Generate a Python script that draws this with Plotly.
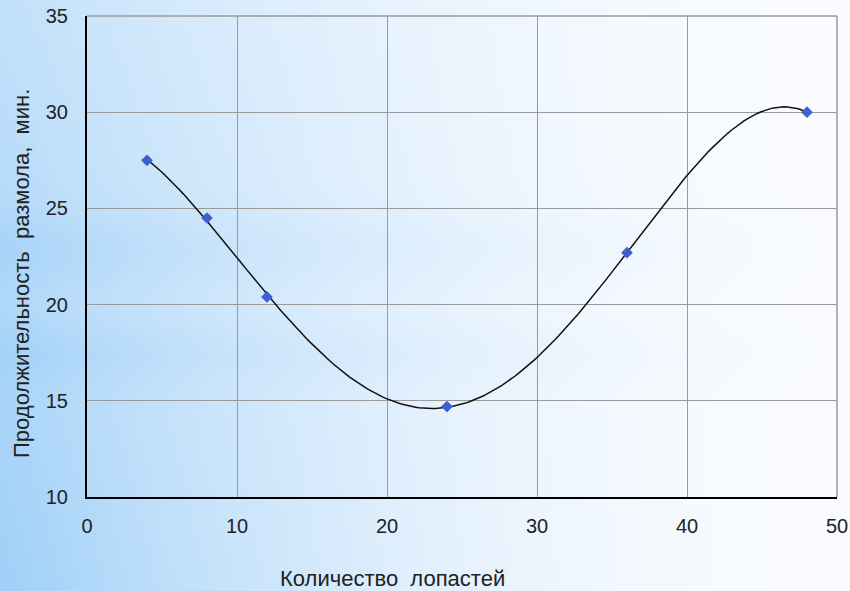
import base64, struct, zlib
import numpy as np
import plotly.graph_objects as go

# Data
blades = [4, 8, 12, 24, 36, 48]
duration = [27.5, 24.5, 20.4, 14.7, 22.7, 30.0]
x_ticks = [0, 10, 20, 30, 40, 50]
y_ticks = [10, 15, 20, 25, 30, 35]
x_title = "Количество\u00a0 лопастей"
y_title = "Продолжительность\u00a0 размола,\u00a0 мин."

W, H = 850, 591
L, R, T, B = 87, 13, 16, 94
PW, PH = W - L - R, H - T - B

# background gradient image (style only)
def make_png(w, h):
    blue = np.array([160, 208, 248], float)
    white = np.array([250, 252, 255], float)
    rows = []
    for j in range(h):
        fy = j / (h - 1)
        band = 0.12 * np.exp(-((fy - 0.42) / 0.06) ** 2) + 0.10 * np.exp(-((fy - 0.6) / 0.05) ** 2)
        row = bytearray([0])
        for i in range(w):
            fx = i / (w - 1)
            t = 0.62 * (1 - fx) ** 1.8 + 0.38 * fy * (1 - fx) ** 2 + band * (1 - fx) ** 0.8
            t = min(max(t, 0.0), 1.0)
            c = white * (1 - t) + blue * t
            row += bytes(int(v) for v in c)
        rows.append(bytes(row))
    raw = b"".join(rows)
    def chunk(tag, data):
        c = struct.pack(">I", len(data)) + tag + data
        return c + struct.pack(">I", zlib.crc32(tag + data) & 0xffffffff)
    png = b"\x89PNG\r\n\x1a\n" + chunk(b"IHDR", struct.pack(">IIBBBBB", w, h, 8, 2, 0, 0, 0)) \
        + chunk(b"IDAT", zlib.compress(raw, 9)) + chunk(b"IEND", b"")
    return "data:image/png;base64," + base64.b64encode(png).decode()

bg = make_png(170, 118)

# polynomial trendline derived from the data
coef = np.polyfit(blades, duration, 4)
xs = np.linspace(min(blades), max(blades), 200)
ys = np.polyval(coef, xs)

fig = go.Figure()
fig.add_trace(go.Scatter(x=xs, y=ys, mode="lines", line=dict(color="#111111", width=1.5),
                         hoverinfo="skip", showlegend=False))
fig.add_trace(go.Scatter(x=blades, y=duration, mode="markers",
                         marker=dict(symbol="diamond", size=9, color="#3f5fcf"),
                         showlegend=False))

fig.update_layout(
    width=W, height=H,
    margin=dict(l=L, r=R, t=T, b=B, autoexpand=False),
    paper_bgcolor="#eaf3fc",
    plot_bgcolor="rgba(0,0,0,0)",
    font=dict(family="Liberation Sans, Arial, sans-serif", size=20, color="#222222"),
    images=[dict(source=bg, xref="paper", yref="paper",
                 x=-L / PW, y=1 + T / PH, sizex=W / PW, sizey=H / PH,
                 sizing="stretch", layer="below", xanchor="left", yanchor="top")],
    xaxis=dict(range=[0, 50], tickvals=x_ticks, showgrid=True, gridcolor="#9a9a9a", gridwidth=1,
               showline=True, linecolor="#000000", linewidth=2, zeroline=False, automargin=False,
               mirror=False, ticks="", ticklabelstandoff=10, fixedrange=True),
    yaxis=dict(range=[10, 35], tickvals=y_ticks, showgrid=True, gridcolor="#9a9a9a", gridwidth=1,
               showline=True, linecolor="#000000", linewidth=2, zeroline=False, automargin=False,
               ticks="", ticklabelstandoff=13, fixedrange=True),
    annotations=[
        dict(text=x_title, xref="paper", yref="paper", x=(392 - L) / PW,
             y=-(578 - T - PH) / PH, xanchor="center", yanchor="middle",
             showarrow=False, font=dict(size=22)),
        dict(text=y_title, xref="paper", yref="paper", x=(21 - L) / PW,
             y=1 - (274 - T) / PH, xanchor="center", yanchor="middle", textangle=-90,
             showarrow=False, font=dict(size=22)),
    ],
    shapes=[
        dict(type="line", xref="paper", yref="paper", x0=1, x1=1, y0=0, y1=1,
             line=dict(color="#9a9a9a", width=1.5)),
        dict(type="line", xref="paper", yref="paper", x0=0, x1=1, y0=1, y1=1,
             line=dict(color="#9a9a9a", width=1.5)),
    ],
)

fig.write_html("out.html")
